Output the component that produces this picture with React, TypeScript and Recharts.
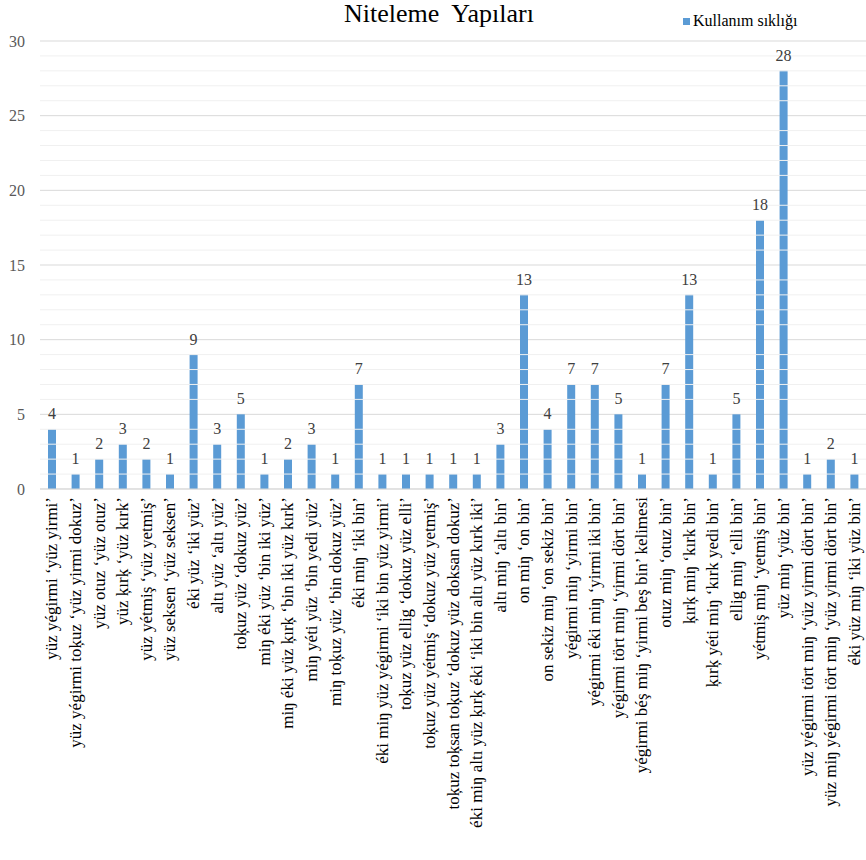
import { Bar, BarChart, CartesianGrid, LabelList, ReferenceLine, XAxis, YAxis } from 'recharts';

// Counts of each number phrase ("niteleme yapısı") found in the text.
const phrases = [
  'yüz yégirmi  ‘yüz yirmi’',
  'yüz yégirmi toķuz ‘yüz yirmi dokuz’',
  'yüz otuz ‘yüz otuz’',
  'yüz ķırķ ‘yüz kırk’',
  'yüz yétmiş ‘yüz yetmiş’',
  'yüz seksen ‘yüz seksen’',
  'éki yüz ‘iki yüz’',
  'altı yüz ‘altı yüz’',
  'toķuz yüz ‘dokuz yüz’',
  'miŋ éki yüz ‘bin iki yüz’',
  'miŋ éki yüz ķırķ ‘bin iki yüz kırk’',
  'miŋ yéti yüz ‘bin yedi yüz’',
  'miŋ toķuz yüz ‘bin dokuz yüz’',
  'éki miŋ ‘iki bin’',
  'éki miŋ yüz yégirmi ‘iki bin yüz yirmi’',
  'toķuz yüz ellig ‘dokuz yüz elli’',
  'toķuz yüz yétmiş ‘dokuz yüz yetmiş’',
  'toķuz toķsan toķuz ‘dokuz yüz doksan dokuz’',
  'éki miŋ altı yüz ķırķ éki ‘iki bin altı yüz kırk iki’',
  'altı miŋ ‘altı bin’',
  'on miŋ ‘on bin’',
  'on sekiz miŋ ‘on sekiz bin’',
  'yégirmi miŋ ‘yirmi bin’',
  'yégirmi éki miŋ ‘yirmi iki bin’',
  'yégirmi tört miŋ ‘yirmi dört bin’',
  'yégirmi béş miŋ ‘yirmi beş bin’ kelimesi',
  'otuz miŋ ‘otuz bin’',
  'ķırķ miŋ ‘kırk bin’',
  'ķırķ yéti miŋ ‘kırk yedi bin’',
  'ellig miŋ ‘elli bin’',
  'yétmiş miŋ ‘yetmiş bin’',
  'yüz miŋ ‘yüz bin’',
  'yüz yégirmi tört miŋ ‘yüz yirmi dört bin’',
  'yüz miŋ yégirmi tört miŋ ‘yüz yirmi dört bin’',
  'éki yüz miŋ ‘iki yüz bin’',
];

const frequency = [
  4, 1, 2, 3, 2, 1, 9, 3, 5, 1, 2, 3, 1, 7, 1, 1, 1, 1, 1, 3, 13, 4, 7, 7, 5, 1, 7, 13, 1, 5, 18, 28, 1, 2, 1,
];

const yTicks = [0, 5, 10, 15, 20, 25, 30];
const minorLines = [1, 2, 3, 4, 6, 7, 8, 9, 11, 12, 13, 14, 16, 17, 18, 19, 21, 22, 23, 24, 26, 27, 28, 29];

const data = phrases.map((name, i) => ({ name, value: frequency[i] }));

const SERIF = 'Liberation Serif, Times New Roman, serif';
const BLUE = '#5b9bd5';

function PhraseTick({ x, y, payload }: any) {
  return (
    <text
      x={x}
      y={y}
      transform={`rotate(-90 ${x} ${y})`}
      textAnchor="end"
      dominantBaseline="central"
      style={{ fontFamily: SERIF, fontSize: 17 }}
      fill="#000"
    >
      {payload.value}
    </text>
  );
}

export default function App() {
  return (
    <div style={{ position: 'relative', width: 866, height: 860, background: '#fff', fontFamily: SERIF }}>
      <style>{'body{margin:0}'}</style>
      <div
        style={{
          position: 'absolute',
          left: 0,
          width: 878,
          top: 0,
          textAlign: 'center',
          fontSize: 26,
          lineHeight: '28px',
          color: '#000',
          whiteSpace: 'pre',
        }}
      >
        {'Niteleme  Yapıları'}
      </div>
      <div
        style={{
          position: 'absolute',
          left: 683,
          top: 12,
          display: 'flex',
          alignItems: 'center',
          fontSize: 16,
          color: '#000',
        }}
      >
        <span style={{ width: 7, height: 7, background: BLUE, marginRight: 3 }} />
        Kullanım sıklığı
      </div>
      <BarChart width={866} height={860} data={data} margin={{ top: 41, right: 0, bottom: 0, left: 0 }}>
        <CartesianGrid vertical={false} stroke="#d9d9d9" />
        {minorLines.map((v) => (
          <ReferenceLine key={v} y={v} stroke="#f0f0f0" ifOverflow="hidden" />
        ))}
        <XAxis
          dataKey="name"
          interval={0}
          height={371}
          tickLine={false}
          tickSize={0}
          tickMargin={8}
          axisLine={{ stroke: '#d9d9d9' }}
          tick={<PhraseTick />}
        />
        <YAxis
          width={40}
          domain={[0, 30]}
          ticks={yTicks}
          axisLine={false}
          tickLine={false}
          tickSize={0}
          tickMargin={15}
          tick={{ fill: '#595959', fontSize: 16, fontFamily: SERIF }}
        />
        <Bar dataKey="value" fill={BLUE} barSize={8} isAnimationActive={false}>
          <LabelList dataKey="value" position="top" offset={10} fill="#404040" fontSize={16} fontFamily={SERIF} />
        </Bar>
      </BarChart>
    </div>
  );
}
